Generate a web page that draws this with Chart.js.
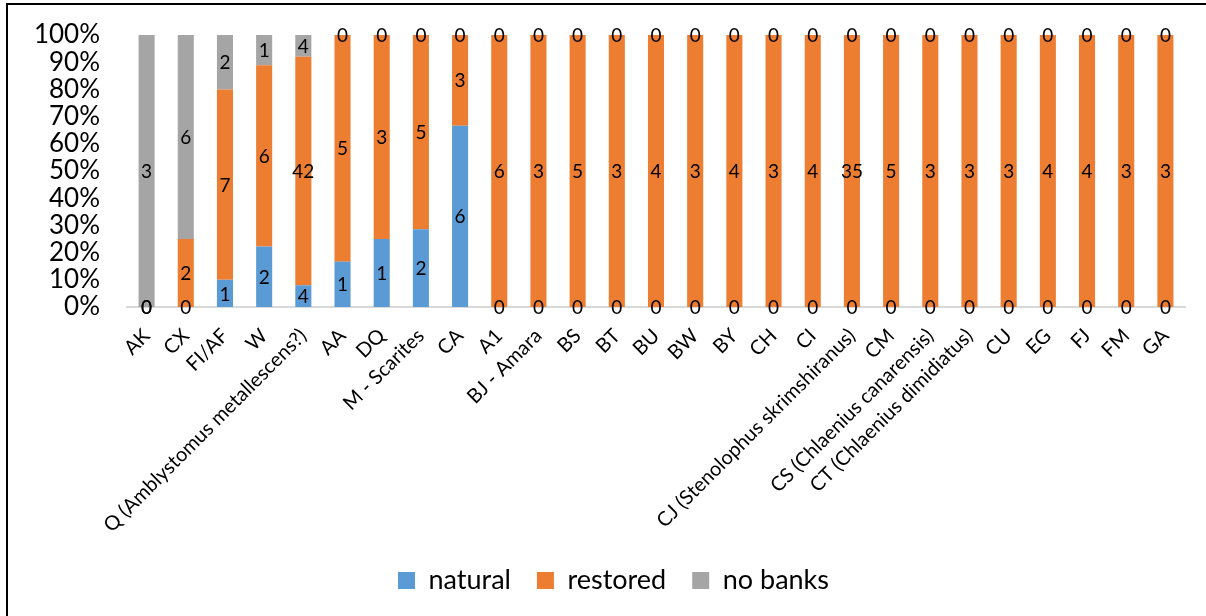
<!DOCTYPE html>
<html>
<head>
<meta charset="utf-8">
<script src="https://cdn.jsdelivr.net/npm/chart.js@4"></script>
<style>
  html, body { margin: 0; padding: 0; background: #fff; overflow: hidden; }
  #frame { position: absolute; left: 6px; top: 3px; width: 1400px; height: 800px; border: 2px solid #000; box-sizing: border-box; }
  #wrap { position: absolute; left: 0; top: 0; width: 1206px; height: 616px; }
</style>
</head>
<body>
<div id="frame"></div>
<div id="wrap"><canvas id="c" width="1206" height="616"></canvas></div>
<script>
// Beetle taxa and counts of records by bank type
const categories = [
  'AK', 'CX', 'FI/AF', 'W', 'Q (Amblystomus metallescens?)', 'AA', 'DQ', 'M - Scarites', 'CA',
  'A1', 'BJ - Amara', 'BS', 'BT', 'BU', 'BW', 'BY', 'CH', 'CI',
  'CJ (Stenolophus skrimshiranus)', 'CM', 'CS (Chlaenius canarensis)', 'CT (Chlaenius dimidiatus)',
  'CU', 'EG', 'FJ', 'FM', 'GA'
];
const natural  = [0, 0, 1, 2, 4, 1, 1, 2, 6, 0, 0, 0, 0, 0, 0, 0, 0, 0, 0, 0, 0, 0, 0, 0, 0, 0, 0];
const restored = [0, 2, 7, 6, 42, 5, 3, 5, 3, 6, 3, 5, 3, 4, 3, 4, 3, 4, 35, 5, 3, 3, 3, 4, 4, 3, 3];
const noBanks  = [3, 6, 2, 1, 4, 0, 0, 0, 0, 0, 0, 0, 0, 0, 0, 0, 0, 0, 0, 0, 0, 0, 0, 0, 0, 0, 0];
const seriesNames = ['natural', 'restored', 'no banks'];
const yTicks = [0, 10, 20, 30, 40, 50, 60, 70, 80, 90, 100];

const counts = [natural, restored, noBanks];
const colors = ['#5B9BD5', '#ED7D31', '#A5A5A5'];
const totals = categories.map((_, i) => counts.reduce((s, arr) => s + arr[i], 0));
const share = arr => arr.map((v, i) => totals[i] ? v / totals[i] * 100 : 0);

// Writes each segment's count at the middle of its bar piece
const countLabels = {
  id: 'countLabels',
  afterDatasetsDraw(chart) {
    const ctx = chart.ctx;
    ctx.save();
    ctx.font = '19px Lato';
    ctx.fillStyle = '#000';
    ctx.textAlign = 'center';
    ctx.textBaseline = 'middle';
    chart.data.datasets.forEach((ds, di) => {
      const meta = chart.getDatasetMeta(di);
      meta.data.forEach((bar, i) => {
        const y = (bar.y + bar.base) / 2;
        ctx.fillText(String(ds.counts[i]), bar.x, y + 1);
      });
    });
    ctx.restore();
  }
};

// Nudges the legend row a little to the right of the canvas centre
const legendShift = {
  id: 'legendShift',
  afterLayout(chart) {
    if (chart.legend) {
      chart.legend.left += 7;
      chart.legend.right += 7;
    }
  }
};

new Chart(document.getElementById('c'), {
  type: 'bar',
  data: {
    labels: categories,
    datasets: counts.map((arr, k) => ({
      label: seriesNames[k],
      data: share(arr),
      counts: arr,
      backgroundColor: colors[k],
      borderWidth: 0,
      barPercentage: 0.41,
      categoryPercentage: 1.0
    }))
  },
  options: {
    responsive: false,
    animation: false,
    layout: { padding: { left: 28, right: 21, top: 35, bottom: 12 } },
    plugins: {
      tooltip: { enabled: false },
      legend: {
        position: 'bottom',
        labels: {
          font: { family: 'Lato', size: 27 },
          color: '#000',
          boxWidth: 17,
          boxHeight: 17,
          padding: 26
        }
      }
    },
    scales: {
      x: {
        stacked: true,
        grid: { display: false },
        border: { display: true, color: '#d9d9d9', width: 2 },
        ticks: {
          autoSkip: false,
          maxRotation: 45,
          minRotation: 45,
          padding: 9,
          color: '#000',
          font: { family: 'Lato', size: 20 }
        },
        afterFit(scale) { scale.height = 234; }
      },
      y: {
        stacked: true,
        min: 0,
        max: 100,
        grid: { display: false, drawTicks: false },
        border: { display: false },
        afterBuildTicks(scale) { scale.ticks = yTicks.map(v => ({ value: v })); },
        ticks: {
          autoSkip: false,
          padding: 27,
          color: '#000',
          font: { family: 'Lato', size: 26 },
          callback: v => v + '%'
        },
        afterFit(scale) {
          scale.width = 99;
          scale.paddingTop = 0;
          scale.paddingBottom = 0;
        }
      }
    }
  },
  plugins: [countLabels, legendShift]
});
</script>
</body>
</html>
